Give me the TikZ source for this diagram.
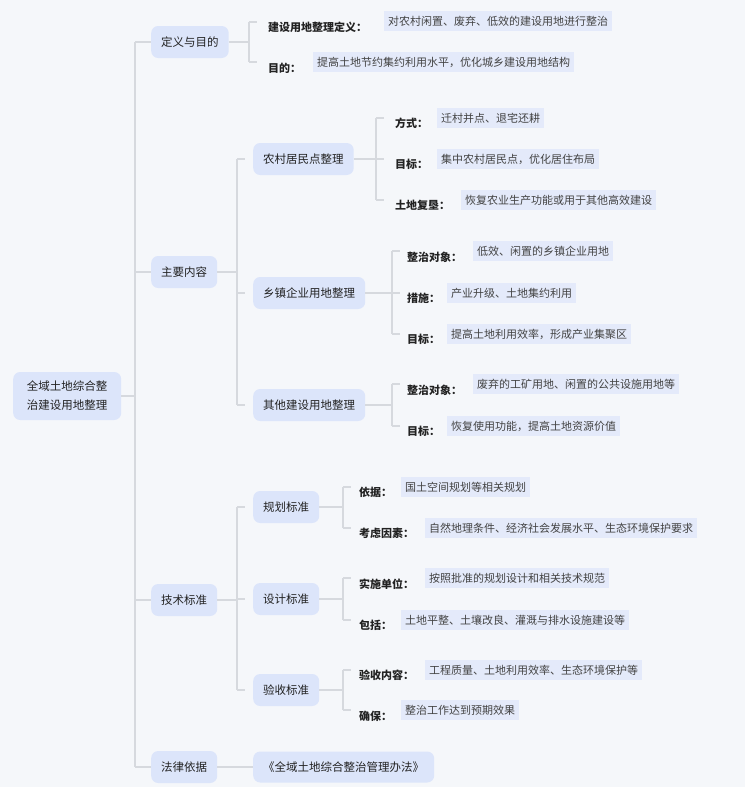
\documentclass[tikz,border=0pt]{standalone}
\usepackage{fontspec}
\setmainfont{Noto Sans CJK SC}
\definecolor{bg}{HTML}{F5F7FA}
\definecolor{nf}{HTML}{DCE5FA}
\definecolor{vf}{HTML}{E4EAFA}
\definecolor{ln}{HTML}{D6D9DE}
\definecolor{tx}{HTML}{222222}
\tikzset{
 box/.style={fill=nf,rounded corners=7pt,minimum height=32pt,inner xsep=10pt,font=\fontsize{11.5}{14}\selectfont,text=tx,anchor=west},
 lab/.style={anchor=west,inner sep=0pt,font=\fontsize{11}{13}\selectfont\bfseries,text=tx},
 val/.style={anchor=west,fill=vf,inner xsep=4pt,inner ysep=0pt,minimum height=20pt,font=\fontsize{11}{13}\selectfont,text=tx!85},
 br/.style={draw=ln,line width=1.3pt}
}
\newcommand{\brk}[4]{% x, y1, y2, tick end
 \draw[br] (#1,#2)--(#1,#3);}
\begin{document}
\begin{tikzpicture}[x=1pt,y=-1pt]
\fill[bg] (0,0) rectangle (745,787);
\useasboundingbox (0,0) rectangle (745,787);
% root
\node[box,align=center,minimum height=48pt,minimum width=108pt,inner xsep=4pt,font=\fontsize{11.5}{19}\selectfont] (root) at (13,396) {全域土地综合整\\治建设用地整理};
\node[box] (a) at (151,42) {定义与目的};
\node[box] (b) at (151,272) {主要内容};
\node[box] (c) at (151,600) {技术标准};
\node[box] (d) at (151,767) {法律依据};
\draw[br] (root.east)--(135,396);
\draw[br] (135,42)--(135,767);
\foreach \n in {a,b,c,d} \draw[br] (135,0|-\n.west)--(\n.west);
% definition
\draw[br] (a.east)--(249,42);
\draw[br] (249,22)--(249,62); \draw[br](249,22)--(257,22); \draw[br](249,62)--(257,62);
\node[lab] (a1) at (268,27) {建设用地整理定义：};
\node[val] (a1v) at (384,21) {对农村闲置、废弃、低效的建设用地进行整治};
\node[lab] (a2) at (268,68) {目的：};
\node[val] (a2v) at (313,62) {提高土地节约集约利用水平，优化城乡建设用地结构};
% main content
\node[box] (b1) at (253,159) {农村居民点整理};
\node[box] (b2) at (253,293) {乡镇企业用地整理};
\node[box] (b3) at (253,405) {其他建设用地整理};
\draw[br] (b.east)--(237,272);
\draw[br] (237,159)--(237,405);
\foreach \n in {b1,b2,b3} \draw[br] (237,0|-\n.west)--(245,0|-\n.west);
% b1
\draw[br] (b1.east)--(376,159);
\draw[br] (376,118)--(376,200);
\foreach \y in {118,159,200} \draw[br] (376,\y)--(384,\y);
\node[lab] at (395,123) {方式：}; \node[val] at (437,118) {迁村并点、退宅还耕};
\node[lab] at (395,164) {目标：}; \node[val] at (437,159) {集中农村居民点，优化居住布局};
\node[lab] at (395,205) {土地复垦：}; \node[val] at (461,200) {恢复农业生产功能或用于其他高效建设};
% b2
\draw[br] (b2.east)--(392,293);
\draw[br] (392,251)--(392,334);
\foreach \y in {251,293,334} \draw[br] (392,\y)--(400,\y);
\node[lab] at (407,257) {整治对象：}; \node[val] at (473,251) {低效、闲置的乡镇企业用地};
\node[lab] at (407,298) {措施：}; \node[val] at (447,293) {产业升级、土地集约利用};
\node[lab] at (407,339) {目标：}; \node[val] at (447,334) {提高土地利用效率，形成产业集聚区};
% b3
\draw[br] (b3.east)--(392,405);
\draw[br] (392,384)--(392,426);
\foreach \y in {384,426} \draw[br] (392,\y)--(400,\y);
\node[lab] at (407,390) {整治对象：}; \node[val] at (473,384) {废弃的工矿用地、闲置的公共设施用地等};
\node[lab] at (407,431) {目标：}; \node[val] at (447,426) {恢复使用功能，提高土地资源价值};
% tech
\node[box] (c1) at (253,507) {规划标准};
\node[box] (c2) at (253,599) {设计标准};
\node[box] (c3) at (253,690) {验收标准};
\draw[br] (c.east)--(237,600);
\draw[br] (237,507)--(237,690);
\foreach \n in {c1,c2,c3} \draw[br] (237,0|-\n.west)--(245,0|-\n.west);
\foreach \n/\ya/\yb in {c1/487/528,c2/578/620,c3/670/710}{
 \draw[br] (\n.east)--(343,0|-\n.east);
 \draw[br] (343,\ya)--(343,\yb);
 \draw[br] (343,\ya)--(351,\ya); \draw[br] (343,\yb)--(351,\yb);}
\node[lab] at (359,492) {依据：}; \node[val] at (401,487) {国土空间规划等相关规划};
\node[lab] at (359,533) {考虑因素：}; \node[val] at (425,528) {自然地理条件、经济社会发展水平、生态环境保护要求};
\node[lab] at (359,584) {实施单位：}; \node[val] at (425,578) {按照批准的规划设计和相关技术规范};
\node[lab] at (359,625) {包括：}; \node[val] at (401,620) {土地平整、土壤改良、灌溉与排水设施建设等};
\node[lab] at (359,675) {验收内容：}; \node[val] at (425,670) {工程质量、土地利用效率、生态环境保护等};
\node[lab] at (359,716) {确保：}; \node[val] at (401,710) {整治工作达到预期效果};
% law
\node[box,minimum height=31pt] (d1) at (253,767) {《全域土地综合整治管理办法》};
\draw[br] (d.east)--(d1.west);
\end{tikzpicture}
\end{document}
